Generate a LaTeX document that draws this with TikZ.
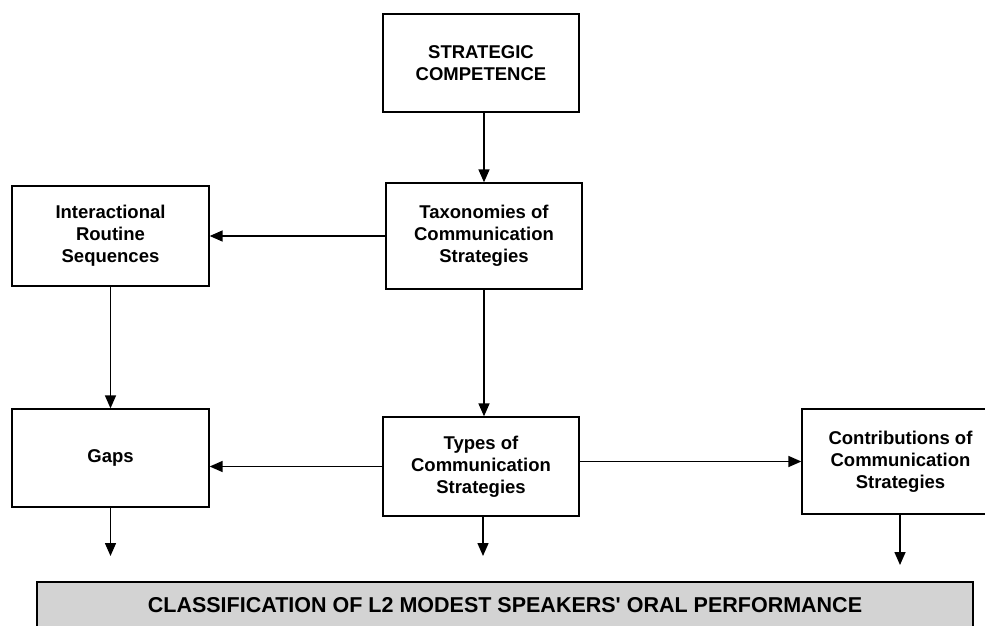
\documentclass[tikz,border=0pt]{standalone}
\usepackage{fontspec}
\setmainfont{Liberation Sans}
\usepackage{xcolor}
\usepackage{tikz}
\usetikzlibrary{arrows.meta}

\definecolor{clsgray}{RGB}{211,211,211}

\tikzset{
  box/.style={draw=black, line width=1.3pt, fill=white, align=center, inner sep=0pt,
    font=\fontsize{18.5}{22}\selectfont\bfseries},
  arr/.style={line width=1.5pt, -{Triangle[length=13pt,width=11pt]}}
}

\begin{document}
\begin{tikzpicture}[x=1pt, y=-1pt]
            \useasboundingbox (0,0) rectangle (985,626);
            \clip (0,0) rectangle (985,626);

            \node[box, minimum width=196pt, minimum height=98pt] at (481,63) (sc) {STRATEGIC\\COMPETENCE};
            \node[box, minimum width=196pt, minimum height=106pt] at (484,236) (tax) {Taxonomies of\\Communication\\Strategies};
            \node[box, minimum width=197pt, minimum height=100pt] at (110.5,236) (irs) {Interactional\\Routine\\Sequences};

            \node[box, minimum width=197pt, minimum height=98pt] at (110.5,458) (gaps) {Gaps};
            \node[box, minimum width=196pt, minimum height=99pt] at (481,466.5) (types) {Types of\\Communication\\Strategies};
            \node[box, minimum width=197pt, minimum height=105pt] at (900.5,461.5) (contrib) {Contributions of\\Communication\\Strategies};

            \node[box, fill=clsgray, minimum width=936pt, minimum height=46pt,
              font=\fontsize{21.5}{25}\selectfont\bfseries] at (505,605) (cls)
              {CLASSIFICATION OF L2 MODEST SPEAKERS\textquotesingle\ ORAL PERFORMANCE};

            % free ends above the bottom box
            \coordinate (g0) at (110.5,556);
            \coordinate (t0) at (483,556);
            \coordinate (c0) at (900,565);

            \draw[arr] (tax.north |- sc.south) -- (tax.north);
            \draw[arr] (tax.west) -- (irs.east);
            \draw[arr] (irs.south) -- (gaps.north);
            \draw[arr] (tax.south) -- (tax.south |- types.north);
            \draw[arr] (types.west) -- (types.west -| gaps.east);
            \draw[arr] (types.east |- contrib.west) -- (contrib.west);

            \foreach \b/\e in {gaps/g0, types/t0, contrib/c0}
              {
                \draw[arr] (\e |- \b.south) -- (\e);
              }
        \end{tikzpicture}
\end{document}
